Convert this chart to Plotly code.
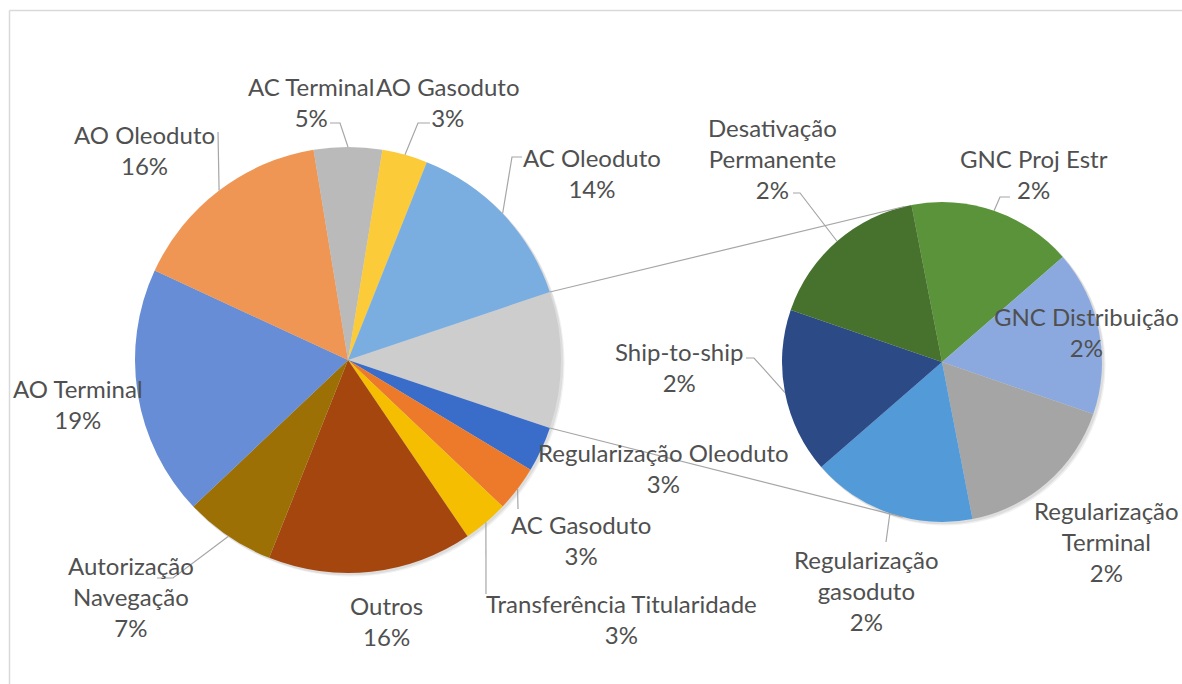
import math
import plotly.graph_objects as go

# ---------------- data ----------------
main_categories = ["AC Oleoduto", "AO Gasoduto", "AC Terminal", "AO Oleoduto", "AO Terminal",
                   "Autorização Navegação", "Outros", "Transferência Titularidade",
                   "AC Gasoduto", "Regularização Oleoduto"]
main_values = [8, 2, 3, 9, 11, 4, 9, 2, 2, 2]

secondary_categories = ["GNC Proj Estr", "GNC Distribuição", "Regularização Terminal",
                        "Regularização gasoduto", "Ship-to-ship", "Desativação Permanente"]
secondary_values = [1, 1, 1, 1, 1, 1]

grouped_label = "Agrupados"

# ---------------- styles ----------------
OFF = 0                      # page body margin removed via post_script
W, H = 1182, 684
MAIN_C, MAIN_R = (348.0, 360.0), 213.0      # screen px
SEC_C, SEC_R = (942.0, 362.0), 160.0
SEC_ROTATION = -11.0
FONT = "Lato"
FONT_SIZE = 24
TEXT_COLOR = "#505050"
LINE_COLOR = "#A6A6A6"

main_colors = {
    "AC Oleoduto": "#7AADE0", "AO Gasoduto": "#FCCB3A", "AC Terminal": "#BABABA",
    "AO Oleoduto": "#EF9655", "AO Terminal": "#668DD5", "Autorização Navegação": "#9C7005",
    "Outros": "#A5460F", "Transferência Titularidade": "#F5BE00", "AC Gasoduto": "#ED7A2A",
    "Regularização Oleoduto": "#3A6DC9", grouped_label: "#CDCDCD",
}
sec_colors = {
    "GNC Proj Estr": "#5A9339", "GNC Distribuição": "#8CA9DF", "Regularização Terminal": "#A5A5A5",
    "Regularização gasoduto": "#539AD9", "Ship-to-ship": "#2B4A86", "Desativação Permanente": "#47722E",
}

# label block centres (screen px) and label text split
label_pos = {
    "AC Oleoduto": (592, 173, "AC Oleoduto"),
    "AO Gasoduto": (448, 102, "AO Gasoduto"),
    "AC Terminal": (311, 102, "AC Terminal"),
    "AO Oleoduto": (144, 150, "AO Oleoduto"),
    "AO Terminal": (78, 404, "AO Terminal"),
    "Autorização Navegação": (131, 596, "Autorização<br>Navegação"),
    "Outros": (386, 621, "Outros"),
    "Transferência Titularidade": (622, 619, "Transferência Titularidade"),
    "AC Gasoduto": (581, 540, "AC Gasoduto"),
    "Regularização Oleoduto": (663, 468, "Regularização Oleoduto"),
    "GNC Proj Estr": (1034, 174, "GNC Proj Estr"),
    "GNC Distribuição": (1086, 332, "GNC Distribuição"),
    "Regularização Terminal": (1106, 541, "Regularização<br>Terminal"),
    "Regularização gasoduto": (866, 590, "Regularização<br>gasoduto"),
    "Ship-to-ship": (679, 367, "Ship-to-ship"),
    "Desativação Permanente": (772, 158, "Desativação<br>Permanente"),
}
# leader line points (screen px) from the slice rim towards the label
leaders = {
    "AC Terminal": [(340, 123), (330, 123)],
    "AO Gasoduto": [(418, 123), (430, 123)],
    "AO Oleoduto": [(218, 132)],
    "AC Oleoduto": [(512, 157), (522, 157)],
    "Autorização Navegação": [(173, 578), (157, 578)],
    "Transferência Titularidade": [(486, 594)],
    "AC Gasoduto": [(518, 509)],
    "Desativação Permanente": [(800, 193), (793, 193)],
    "GNC Proj Estr": [(1000, 197), (1010, 197)],
    "Ship-to-ship": [(754, 358), (746, 358)],
    "Regularização gasoduto": [(886, 542)],
}


def paper(x, y):
    return (x - OFF) / W, 1 - (y - OFF) / H


def domain(c, r):
    x0, y1 = paper(c[0] - r, c[1] - r)
    x1, y0 = paper(c[0] + r, c[1] + r)
    return dict(x=[x0, x1], y=[y0, y1])


def rim(c, r, cw_deg):
    a = math.radians(cw_deg)
    return c[0] + r * math.sin(a), c[1] - r * math.cos(a)


def circle_path(c, r, dx=0.0, dy=0.0, n=120):
    pts = []
    for i in range(n):
        a = 2 * math.pi * i / n
        pts.append(paper(c[0] + dx + r * math.cos(a), c[1] + dy + r * math.sin(a)))
    return "M " + " L ".join(f"{x:.5f} {y:.5f}" for x, y in pts) + " Z"


other_total = sum(secondary_values)
grand_total = sum(main_values) + other_total

# clockwise order, starting with the grouped slice centred at 3 o'clock
cw_labels = [grouped_label] + list(reversed(main_categories))
cw_values = [other_total] + list(reversed(main_values))
main_rotation = 90 - 0.5 * 360 * other_total / grand_total

fig = go.Figure()
fig.add_trace(go.Pie(
    labels=cw_labels, values=cw_values, sort=False, direction="clockwise",
    rotation=main_rotation, domain=domain(MAIN_C, MAIN_R), textinfo="none",
    marker=dict(colors=[main_colors[l] for l in cw_labels], line=dict(width=0)),
    showlegend=False, hoverinfo="label+value",
))
fig.add_trace(go.Pie(
    labels=secondary_categories, values=secondary_values, sort=False, direction="clockwise",
    rotation=SEC_ROTATION, domain=domain(SEC_C, SEC_R), textinfo="none",
    marker=dict(colors=[sec_colors[l] for l in secondary_categories], line=dict(width=0)),
    showlegend=False, hoverinfo="label+value",
))

# mid-angle rim points of each slice
mid_points = {}
acc = 0.0
for lab, v in zip(cw_labels, cw_values):
    mid = main_rotation + (acc + v / 2) * 360 / grand_total
    mid_points[lab] = rim(MAIN_C, MAIN_R, mid)
    acc += v
sec_total = sum(secondary_values)
acc = 0.0
for lab, v in zip(secondary_categories, secondary_values):
    mid = SEC_ROTATION + (acc + v / 2) * 360 / sec_total
    mid_points[lab] = rim(SEC_C, SEC_R, mid)
    acc += v

shapes = []
# frame (top and left edges only are visible in the reference)
fx0, fy1 = paper(9.5, 10.5)
shapes.append(dict(type="line", xref="paper", yref="paper", x0=fx0, x1=1.0, y0=fy1, y1=fy1,
                   line=dict(color="#D9D9D9", width=1.5), layer="below"))
shapes.append(dict(type="line", xref="paper", yref="paper", x0=fx0, x1=fx0, y0=0.0, y1=fy1,
                   line=dict(color="#D9D9D9", width=1.5), layer="below"))
# soft shadows under the pies
for c, r in ((MAIN_C, MAIN_R), (SEC_C, SEC_R)):
    for k, alpha in ((3.0, 0.06), (1.8, 0.08)):
        shapes.append(dict(type="path", xref="paper", yref="paper", path=circle_path(c, r + 0.5, k, k),
                           fillcolor=f"rgba(0,0,0,{alpha})", line=dict(width=0), layer="below"))

# connector lines (tangents from grouped slice edges to secondary pie)
grp_start = main_rotation
grp_end = main_rotation + 360 * other_total / grand_total
for edge_ang, pick in ((grp_start, "upper"), (grp_end, "lower")):
    P = rim(MAIN_C, MAIN_R, edge_ang)
    dx, dy = P[0] - SEC_C[0], P[1] - SEC_C[1]
    d = math.hypot(dx, dy)
    phi = math.atan2(dy, dx)
    alpha = math.acos(SEC_R / d)
    cands = [(SEC_C[0] + SEC_R * math.cos(phi + s * alpha), SEC_C[1] + SEC_R * math.sin(phi + s * alpha))
             for s in (1, -1)]
    T = min(cands, key=lambda t: t[1]) if pick == "upper" else max(cands, key=lambda t: t[1])
    x0, y0 = paper(*P)
    x1, y1 = paper(*T)
    shapes.append(dict(type="line", xref="paper", yref="paper", x0=x0, y0=y0, x1=x1, y1=y1,
                       line=dict(color=LINE_COLOR, width=1.2)))

# leader lines
for lab, pts in leaders.items():
    allp = [mid_points[lab]] + pts
    path = ""
    for i, (x, y) in enumerate(allp):
        px_, py_ = paper(x, y)
        path += ("M" if i == 0 else " L") + f" {px_:.5f} {py_:.5f}"
    shapes.append(dict(type="path", xref="paper", yref="paper", path=path,
                       line=dict(color=LINE_COLOR, width=1.2)))

annotations = []
all_vals = dict(zip(main_categories, main_values))
all_vals.update(dict(zip(secondary_categories, secondary_values)))
for lab, (x, y, txt) in label_pos.items():
    pct = round(all_vals[lab] / grand_total * 100)
    ax, ay = paper(x, y)
    annotations.append(dict(x=ax, y=ay, xref="paper", yref="paper", showarrow=False,
                            text=f"{txt}<br>{pct}%", xanchor="center", yanchor="middle",
                            align="center", font=dict(family=FONT, size=FONT_SIZE, color=TEXT_COLOR)))

fig.update_layout(
    width=W, height=H, margin=dict(l=0, r=0, t=0, b=0),
    paper_bgcolor="white", plot_bgcolor="white",
    shapes=shapes, annotations=annotations,
    font=dict(family=FONT, size=FONT_SIZE, color=TEXT_COLOR),
)

fig.write_html(
    "out.html",
    config={"displayModeBar": False},
    post_script="document.documentElement.style.overflow='hidden';"
                "document.body.style.margin='0';document.body.style.overflow='hidden';",
)
